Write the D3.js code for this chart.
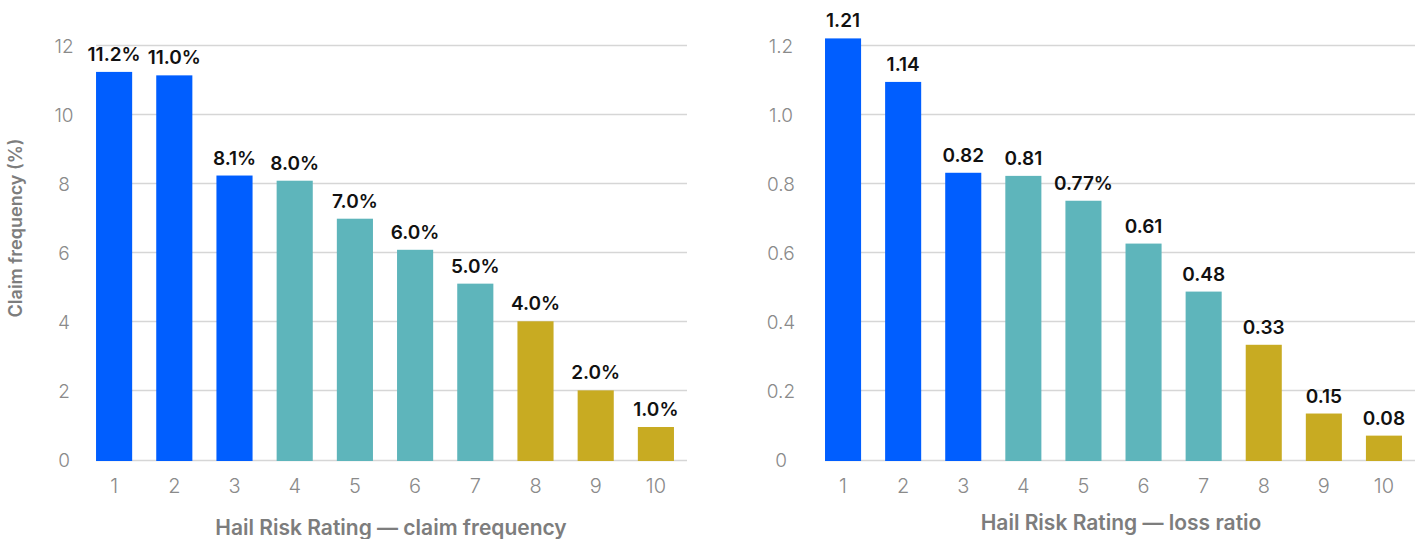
<!DOCTYPE html>
<html>
  <head>
    <meta charset="utf-8">
    <title>Hail Risk Rating</title>
    <script src="https://d3js.org/d3.v7.min.js"></script>
    <style>
      body{
        margin: 0;
        background: #ffffff;
      }
      svg text{
        font-family: Inter, "Noto Sans", sans-serif;
      }
      .tick-label{
        fill: #8a8a8a;
        font-size: 19px;
        font-weight: 300;
      }
      .bar-label{
        fill: #111111;
        font-size: 19px;
        font-weight: 600;
      }
      .axis-title{
        fill: #7d7d7d;
        font-size: 21px;
        font-weight: 600;
      }
    </style>
  </head>
  <body>
    <div id="container"></div>
    <script>

      // DATA
      const ratings = ["1", "2", "3", "4", "5", "6", "7", "8", "9", "10"];
      const tiers = ["high", "high", "high", "mid", "mid", "mid", "mid", "low", "low", "low"];

      const freqValues = [11.25, 11.15, 8.25, 8.1, 7.0, 6.1, 5.12, 4.03, 2.03, 0.97];
      const freqLabels = ["11.2%", "11.0%", "8.1%", "8.0%", "7.0%", "6.0%", "5.0%", "4.0%", "2.0%", "1.0%"];
      const freqTicks = [0, 2, 4, 6, 8, 10, 12];
      const freqTickLabels = ["0", "2", "4", "6", "8", "10", "12"];

      const lossValues = [1.222, 1.096, 0.833, 0.824, 0.752, 0.628, 0.489, 0.335, 0.136, 0.072];
      const lossLabels = ["1.21", "1.14", "0.82", "0.81", "0.77%", "0.61", "0.48", "0.33", "0.15", "0.08"];
      const lossTicks = [0, 0.2, 0.4, 0.6, 0.8, 1.0, 1.2];
      const lossTickLabels = ["0", "0.2", "0.4", "0.6", "0.8", "1.0", "1.2"];

      const color = d3.scaleOrdinal()
        .domain(["high", "mid", "low"])
        .range(["#005eff", "#5eb5bb", "#c8ab22"]);

      // SVG
      const width = 1418, height = 539;
      const svg = d3.select("#container")
        .append("svg")
        .attr("width", width)
        .attr("height", height);

      // DRAW ONE PANEL
      function drawPanel(opts) {
        const x = d3.scaleBand()
          .domain(ratings)
          .range(opts.xRange)
          .paddingInner(0.4)
          .paddingOuter(0.2);

        const y = d3.scaleLinear()
          .domain([0, opts.yMax])
          .range([460.5, 46]);

        const g = svg.append("g");
        const gridStart = x(ratings[0]);
        const gridEnd = opts.xRange[1] + 1;

        // gridlines
        g.selectAll(".grid")
          .data(opts.ticks)
          .enter()
          .append("line")
          .attr("x1", gridStart)
          .attr("x2", gridEnd)
          .attr("y1", d => Math.round(y(d)) - 0.5)
          .attr("y2", d => Math.round(y(d)) - 0.5)
          .attr("stroke", "#d6d6d6")
          .attr("stroke-width", 1.5);

        // y tick labels
        g.selectAll(".ytick")
          .data(opts.ticks)
          .enter()
          .append("text")
          .attr("class", "tick-label")
          .attr("x", opts.tickX)
          .attr("y", d => y(d))
          .attr("dy", "0.35em")
          .attr("text-anchor", "middle")
          .text((d, i) => opts.tickLabels[i]);

        // bars
        g.selectAll(".bar")
          .data(opts.values)
          .enter()
          .append("rect")
          .attr("x", (d, i) => x(ratings[i]))
          .attr("width", x.bandwidth())
          .attr("y", d => y(d))
          .attr("height", d => y(0) - y(d) + 0.5)
          .attr("fill", (d, i) => color(tiers[i]));

        // bar labels
        g.selectAll(".bar-label")
          .data(opts.values)
          .enter()
          .append("text")
          .attr("class", "bar-label")
          .attr("x", (d, i) => x(ratings[i]) + x.bandwidth() / 2)
          .attr("y", d => y(d) - 11)
          .attr("text-anchor", "middle")
          .text((d, i) => opts.labels[i]);

        // x tick labels
        g.selectAll(".xtick")
          .data(ratings)
          .enter()
          .append("text")
          .attr("class", "tick-label")
          .style("font-size", "20px")
          .attr("x", d => x(d) + x.bandwidth() / 2)
          .attr("y", 493)
          .attr("text-anchor", "middle")
          .text(d => d);

        // x title
        g.append("text")
          .attr("class", "axis-title")
          .attr("x", opts.titleX)
          .attr("y", opts.titleY)
          .attr("text-anchor", "middle")
          .text(opts.title);
      }

      drawPanel({
        xRange: [84, 686],
        yMax: 12,
        values: freqValues,
        labels: freqLabels,
        ticks: freqTicks,
        tickLabels: freqTickLabels,
        tickX: 64,
        title: "Hail Risk Rating \u2014 claim frequency",
        titleX: 391,
        titleY: 535
      });

      drawPanel({
        xRange: [813, 1414],
        yMax: 1.2,
        values: lossValues,
        labels: lossLabels,
        ticks: lossTicks,
        tickLabels: lossTickLabels,
        tickX: 781,
        title: "Hail Risk Rating \u2014 loss ratio",
        titleX: 1121,
        titleY: 530
      });

      // Y TITLE (left panel only)
      svg.append("text")
        .attr("class", "axis-title")
        .style("font-size", "18px")
        .attr("transform", "translate(22,228) rotate(-90)")
        .attr("text-anchor", "middle")
        .text("Claim frequency (%)");

    </script>
  </body>
</html>
